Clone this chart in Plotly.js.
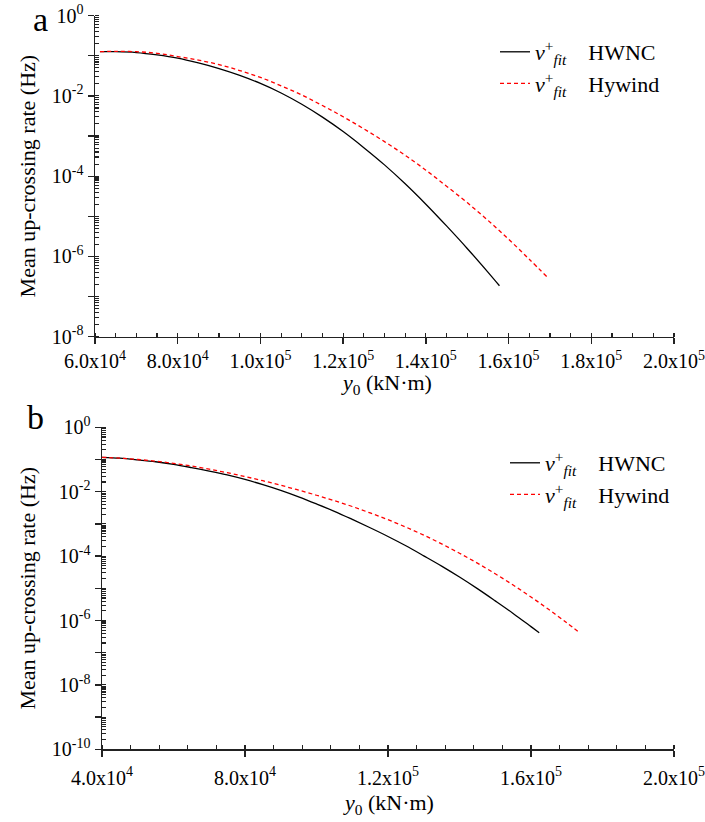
<!DOCTYPE html>
<html>
<head>
<meta charset="utf-8">
<script src="https://cdn.plot.ly/plotly-3.0.1.min.js"></script>
<style>html,body{margin:0;padding:0;background:#fff;}#chart{width:705px;height:822px;}</style>
</head>
<body>
<div id="chart"></div>
<script>
// ---- Panel a data (y0 in kN·m, mean up-crossing rate in Hz) ----
const aHwncX = [61200, 65000, 70000, 75000, 80000, 85000, 90000, 95000, 100000, 105000, 110000, 115000, 120000, 125000, 130000, 135000, 140000, 145000, 150000, 155000, 157800];
const aHwncY = [0.126, 0.126, 0.120, 0.105, 0.0871, 0.0661, 0.0479, 0.0324, 0.0204, 0.0118, 6.17e-3, 2.95e-3, 1.29e-3, 5.13e-4, 1.91e-4, 6.46e-5, 2.00e-5, 5.75e-6, 1.58e-6, 4.07e-7, 1.86e-7];
const aHywX  = [61200, 65000, 70000, 75000, 80000, 85000, 90000, 95000, 100000, 105000, 110000, 115000, 120000, 125000, 130000, 135000, 140000, 145000, 150000, 155000, 160000, 165000, 169500];
const aHywY  = [0.126, 0.129, 0.126, 0.115, 0.0955, 0.0776, 0.0603, 0.0427, 0.0288, 0.0178, 0.0105, 5.75e-3, 3.02e-3, 1.51e-3, 7.24e-4, 3.31e-4, 1.41e-4, 5.62e-5, 2.19e-5, 7.94e-6, 2.69e-6, 8.51e-7, 2.95e-7];

// ---- Panel b data ----
const bHwncX = [40000, 45000, 50000, 55000, 60000, 65000, 70000, 75000, 80000, 85000, 90000, 95000, 100000, 105000, 110000, 115000, 120000, 125000, 130000, 135000, 140000, 145000, 150000, 155000, 160000, 162300];
const bHwncY = [0.117, 0.110, 0.0977, 0.0851, 0.0708, 0.0562, 0.0437, 0.0331, 0.0240, 0.0166, 0.0110, 6.92e-3, 4.17e-3, 2.46e-3, 1.38e-3, 7.59e-4, 4.07e-4, 2.09e-4, 1.02e-4, 4.90e-5, 2.24e-5, 9.77e-6, 4.07e-6, 1.66e-6, 6.46e-7, 4.17e-7];
const bHywX  = [40000, 45000, 50000, 55000, 60000, 65000, 70000, 75000, 80000, 85000, 90000, 95000, 100000, 105000, 110000, 115000, 120000, 125000, 130000, 135000, 140000, 145000, 150000, 155000, 160000, 165000, 170000, 173500];
const bHywY  = [0.117, 0.110, 0.100, 0.0891, 0.0759, 0.0631, 0.0501, 0.0389, 0.0295, 0.0219, 0.0158, 0.0112, 7.76e-3, 5.25e-3, 3.47e-3, 2.19e-3, 1.35e-3, 7.94e-4, 4.47e-4, 2.40e-4, 1.23e-4, 6.03e-5, 2.82e-5, 1.26e-5, 5.37e-6, 2.19e-6, 8.51e-7, 4.27e-7];

// ---- Tick labels ----
const aXTickVals = [60000, 80000, 100000, 120000, 140000, 160000, 180000, 200000];
const aXTickText = ['6.0x10<sup>4</sup>', '8.0x10<sup>4</sup>', '1.0x10<sup>5</sup>', '1.2x10<sup>5</sup>', '1.4x10<sup>5</sup>', '1.6x10<sup>5</sup>', '1.8x10<sup>5</sup>', '2.0x10<sup>5</sup>'];
const bXTickVals = [40000, 80000, 120000, 160000, 200000];
const bXTickText = ['4.0x10<sup>4</sup>', '8.0x10<sup>4</sup>', '1.2x10<sup>5</sup>', '1.6x10<sup>5</sup>', '2.0x10<sup>5</sup>'];
const aYTickVals = [1, 1e-1, 1e-2, 1e-3, 1e-4, 1e-5, 1e-6, 1e-7, 1e-8];
const aYTickText = ['10<sup>0</sup>', '', '10<sup>-2</sup>', '', '10<sup>-4</sup>', '', '10<sup>-6</sup>', '', '10<sup>-8</sup>'];
const bYTickVals = [1, 1e-1, 1e-2, 1e-3, 1e-4, 1e-5, 1e-6, 1e-7, 1e-8, 1e-9, 1e-10];
const bYTickText = ['10<sup>0</sup>', '', '10<sup>-2</sup>', '', '10<sup>-4</sup>', '', '10<sup>-6</sup>', '', '10<sup>-8</sup>', '', '10<sup>-10</sup>'];

const seriesNames = ['HWNC', 'Hywind'];
const vfit = '<i>v</i><sup>+</sup><sub><i>fit</i></sub>\u00a0\u00a0\u00a0\u00a0';
const xTitle = '<i>y</i><sub>0</sub> (kN·m)';
const yTitle = 'Mean up-crossing rate (Hz)';

const FONT = '"Liberation Serif", "Times New Roman", Times, serif';
const W = 705, H = 822;
const px = v => v / W;
const py = v => (H - v) / H;

const blackLine = {color: '#000000', width: 1.3, shape: 'spline', smoothing: 1};
const redLine = {color: '#ff0000', width: 1.3, dash: '4px,3px', shape: 'spline', smoothing: 1};

const traces = [
  {x: aHwncX, y: aHwncY, mode: 'lines', line: blackLine, name: vfit + seriesNames[0], xaxis: 'x', yaxis: 'y', legend: 'legend'},
  {x: aHywX, y: aHywY, mode: 'lines', line: redLine, name: vfit + seriesNames[1], xaxis: 'x', yaxis: 'y', legend: 'legend'},
  {x: bHwncX, y: bHwncY, mode: 'lines', line: blackLine, name: vfit + seriesNames[0], xaxis: 'x2', yaxis: 'y2', legend: 'legend2'},
  {x: bHywX, y: bHywY, mode: 'lines', line: redLine, name: vfit + seriesNames[1], xaxis: 'x2', yaxis: 'y2', legend: 'legend2'}
];

function xAxis(domain, range, vals, text, minorTick0, minorDtick, anchor, labelStandoff) {
  return {
    domain: domain, range: range, anchor: anchor,
    tickmode: 'array', tickvals: vals, ticktext: text,
    ticks: 'outside', ticklen: 6, tickwidth: 1.3, tickcolor: '#222',
    ticklabelstandoff: labelStandoff,
    showline: true, linecolor: '#222', linewidth: 1.5, showgrid: false, zeroline: false,
    tickfont: {family: FONT, size: 20, color: '#000'},
    minor: {ticks: 'inside', ticklen: 4, tickwidth: 1.2, tickcolor: '#222', tick0: minorTick0, dtick: minorDtick, showgrid: false}
  };
}
function yAxis(domain, range, vals, text, anchor) {
  return {
    domain: domain, type: 'log', range: range, anchor: anchor,
    tickmode: 'array', tickvals: vals, ticktext: text,
    ticks: 'outside', ticklen: 6, tickwidth: 1.3, tickcolor: '#222',
    showline: true, linecolor: '#222', linewidth: 1.5, showgrid: false, zeroline: false,
    tickfont: {family: FONT, size: 20, color: '#000'},
    minor: {ticks: 'inside', ticklen: 4, tickwidth: 1.1, tickcolor: '#222', dtick: 'D1', showgrid: false},
    title: {text: yTitle, font: {family: FONT, size: 22, color: '#000'}, standoff: 10}
  };
}

const layout = {
  width: W, height: H,
  margin: {l: 0, r: 0, t: 0, b: 0},
  paper_bgcolor: '#fff', plot_bgcolor: '#fff',
  showlegend: true,
  xaxis: xAxis([px(95), px(674)], [60000, 200000], aXTickVals, aXTickText, 60000, 5000, 'y', 0),
  yaxis: yAxis([py(336.7), py(15.6)], [-8, 0], aYTickVals, aYTickText, 'x'),
  xaxis2: xAxis([px(102), px(674)], [40000, 200000], bXTickVals, bXTickText, 40000, 8000, 'y2', 4),
  yaxis2: yAxis([py(749.3), py(427.3)], [-10, 0], bYTickVals, bYTickText, 'x2'),
  legend: {x: px(495), y: py(31), xanchor: 'left', yanchor: 'top', bgcolor: 'rgba(0,0,0,0)',
           font: {family: FONT, size: 22, color: '#000'}, itemwidth: 30, tracegroupgap: 0},
  legend2: {x: px(505), y: py(442), xanchor: 'left', yanchor: 'top', bgcolor: 'rgba(0,0,0,0)',
            font: {family: FONT, size: 22, color: '#000'}, itemwidth: 30, tracegroupgap: 0},
  annotations: [
    {text: 'a', xref: 'paper', yref: 'paper', x: px(40), y: py(20), showarrow: false,
     font: {family: FONT, size: 34, color: '#000'}, xanchor: 'center', yanchor: 'middle'},
    {text: 'b', xref: 'paper', yref: 'paper', x: px(35), y: py(418), showarrow: false,
     font: {family: FONT, size: 34, color: '#000'}, xanchor: 'center', yanchor: 'middle'},
    {text: xTitle, xref: 'paper', yref: 'paper', x: px(386), y: py(384), showarrow: false,
     font: {family: FONT, size: 22, color: '#000'}, xanchor: 'center', yanchor: 'middle'},
    {text: xTitle, xref: 'paper', yref: 'paper', x: px(388), y: py(804), showarrow: false,
     font: {family: FONT, size: 22, color: '#000'}, xanchor: 'center', yanchor: 'middle'}
  ]
};

Plotly.newPlot('chart', traces, layout, {staticPlot: true, displayModeBar: false});
</script>
</body>
</html>
